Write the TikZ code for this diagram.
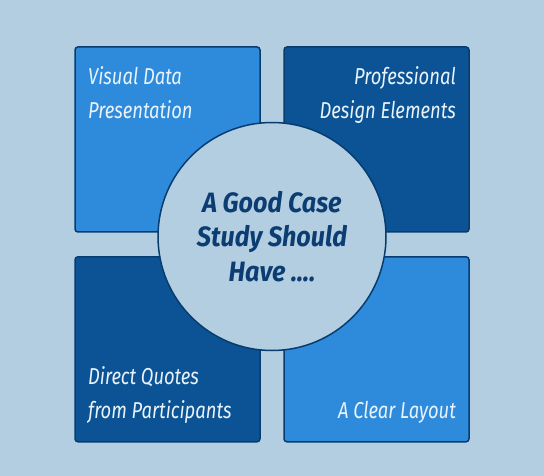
\documentclass[tikz,border=0pt]{standalone}
\usepackage{fontspec}
\setmainfont[FakeStretch=0.8]{Fira Sans}
\newfontfamily\hubfont[FakeStretch=0.9]{Fira Sans}
\usetikzlibrary{calc}

\definecolor{bgblue}{HTML}{B3CDE1}
\definecolor{lightblue}{HTML}{2E8BDB}
\definecolor{darkblue}{HTML}{0B5394}
\definecolor{edgeblue}{HTML}{083C6E}
\definecolor{hubtext}{HTML}{0B3D73}
\definecolor{tilewhite}{HTML}{EAF3FC}

\tikzset{
  tile/.style={draw=edgeblue, line width=1.5pt, rounded corners=3pt,
    minimum size=185pt, inner sep=0pt},
  tiletext/.style={text=tilewhite, inner sep=0pt,
    font=\fontsize{23}{34}\selectfont\itshape},
  hub/.style={circle, draw=edgeblue, line width=1.5pt, fill=bgblue,
    minimum size=228pt, inner sep=0pt, text=hubtext, align=center,
    font=\hubfont\fontsize{28}{34.7}\selectfont\bfseries\itshape}
}

\begin{document}
\begin{tikzpicture}[x=1pt,y=-1pt]
  % background
  \fill[bgblue] (0,0) rectangle (544,476);
  \useasboundingbox (0,0) rectangle (544,476);

  % tiles
  \foreach \name/\x/\y/\col in {visual/167.5/139.5/lightblue,
                                design/376.5/139.5/darkblue,
                                quotes/167.5/349.3/darkblue,
                                layout/376.5/349.3/lightblue}
    \node[tile, fill=\col] (\name) at (\x,\y) {};

  % tile labels (base = last line)
  \node[tiletext, anchor=base west, align=left] (visualtext) at (88,118.3)
    {Visual Data\\Presentation};
  \node[tiletext, anchor=base east, align=right] (designtext) at (456,118.3)
    {Professional\\Design Elements};
  \node[tiletext, anchor=base west, align=left] (quotestext) at (88,418.3)
    {Direct Quotes\\from Participants};
  \node[tiletext, anchor=base east, align=right] (layouttext) at (456,418.3)
    {A Clear Layout};

  % centre
  \node[hub] (hub) at (272,236.5) {A Good Case\\Study Should\\Have ....};
\end{tikzpicture}
\end{document}
